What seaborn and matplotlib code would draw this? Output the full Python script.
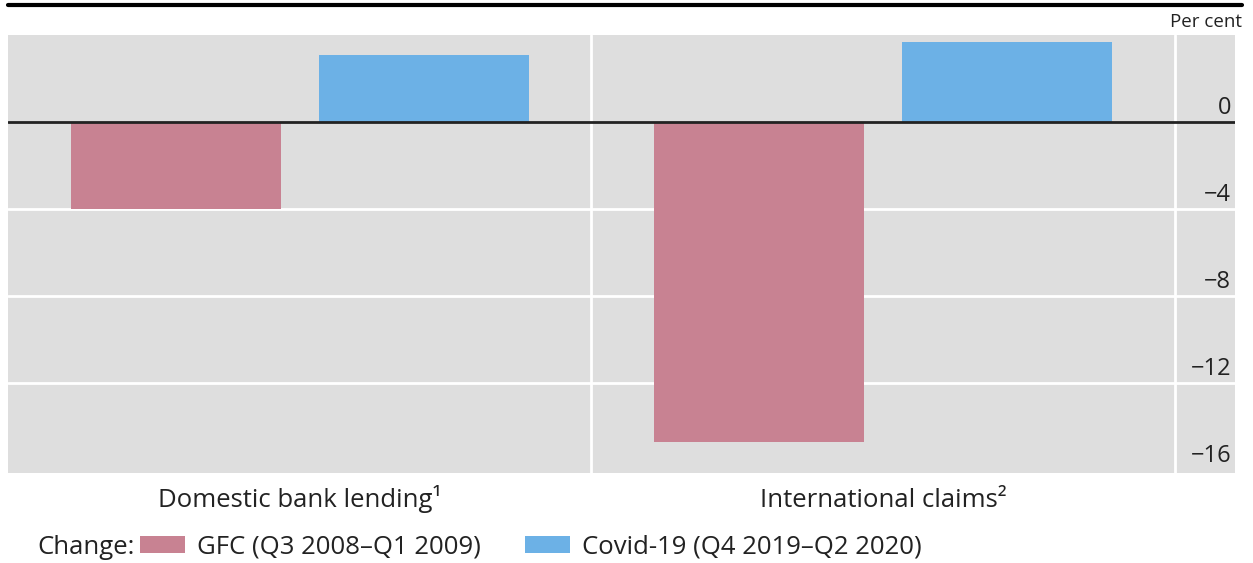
import numpy as np
import pandas as pd
import matplotlib
matplotlib.use("Agg")
import matplotlib.pyplot as plt
import seaborn as sns
from matplotlib.lines import Line2D

# -- Data ---------------------------------------------------------------
categories = ["Domestic bank lending\u00b9", "International claims\u00b2"]
periods = ["GFC (Q3 2008\u2013Q1 2009)", "Covid-19 (Q4 2019\u2013Q2 2020)"]
gfc_values = [-4.0, -14.7]
covid_values = [3.1, 3.7]
y_ticks = [0, -4, -8, -12, -16]

colors = ["#c88292", "#6cb1e6"]
panel_bg = "#dedede"

df = pd.DataFrame({
    "category": categories * 2,
    "period": [periods[0]] * 2 + [periods[1]] * 2,
    "value": gfc_values + covid_values,
})

sns.set_theme(style="white")
plt.rcParams["font.family"] = ["Open Sans", "DejaVu Sans"]

fig = plt.figure(figsize=(12.53, 5.63), dpi=100)
ax = fig.add_axes([8 / 1253, 1 - 473 / 563, (1235 - 8) / 1253, (473 - 35) / 563])
ax.set_facecolor(panel_bg)

sns.barplot(
    data=df, x="category", y="value", hue="period",
    palette=colors, width=0.85, gap=0.153, saturation=1,
    edgecolor="none", ax=ax,
)

ax.set_ylim(-16.14, 4.0)
ax.set_xlim(-0.5, 1.603)

# white grid lines and separators
for t in y_ticks[1:-1]:
    ax.axhline(t, color="white", lw=2, zorder=0.5)
for xs in [0.5, 1.5]:
    ax.axvline(xs, color="white", lw=2, zorder=0.5)
ax.axhline(0, color="#222222", lw=2, zorder=3)

for s in ax.spines.values():
    s.set_visible(False)
ax.set_yticks([])
ax.tick_params(axis="x", length=0, labelbottom=False)
ax.set_xlabel("")
ax.set_ylabel("")

# category labels on a common baseline under the panel
for i, cat in enumerate(categories):
    ax.text(i, -34 / 438, cat, transform=ax.get_xaxis_transform(),
            ha="center", va="baseline", fontsize=18.5, color="#222222")

# y tick labels sit above their grid lines inside the panel
for t in y_ticks:
    lab = f"{t}".replace("-", "\u2212")
    ax.text(0.997, t + 0.37, lab, transform=ax.get_yaxis_transform(),
            ha="right", va="baseline", fontsize=17, color="#222222")

# top rule and unit label
fig.add_artist(Line2D([8 / 1253, 1242 / 1253], [1 - 5 / 563] * 2,
                      color="black", lw=3, transform=fig.transFigure))
fig.text(1242 / 1253, 1 - 22 / 563, "Per cent", ha="right", va="center",
         fontsize=13.5, color="#222222")

# legend
sns.move_legend(
    ax, "center left", bbox_to_anchor=(117 / 1253, 1 - 547 / 563),
    bbox_transform=fig.transFigure, ncol=2, title=None, frameon=False,
    fontsize=18.5, handlelength=1.75, handleheight=0.66, handletextpad=0.47,
    columnspacing=1.7,
)
for txt in ax.get_legend().get_texts():
    txt.set_color("#222222")
fig.text(37 / 1253, 1 - 547 / 563, "Change:", ha="left", va="center",
         fontsize=18.5, color="#222222")

fig.savefig("out.png", dpi=100)
